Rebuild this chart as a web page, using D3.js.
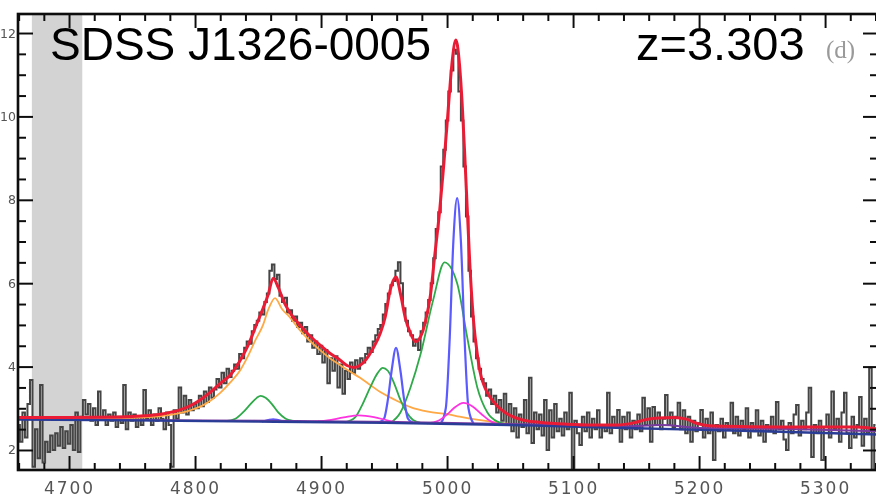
<!DOCTYPE html>
<html>
<head>
<meta charset="utf-8">
<script src="https://cdn.jsdelivr.net/npm/d3@7"></script>
<style>
  html, body { margin: 0; padding: 0; background: #fff; }
  svg { display: block; }
</style>
</head>
<body>
<svg id="chart" width="876" height="499"></svg>
<script>
// ---- Observed spectrum (rest-frame wavelength, 2 Å sampling) ----
const wavelengthStep = 2;

const flux4660 = [ // 4660 - 4710
  2.6, 2.2, 2.9, 2.3, 3.1, 3.68, 1.6, 2.5, 1.8, 3.56,
  1.7, 2.2, 1.95, 2.35, 2.0, 2.4, 2.1, 2.55, 2.05, 2.45,
  2.15, 2.6, 2.0, 2.9, 1.95, 2.8
];
const flux4712 = [ // 4712 - 4800
  3.2, 2.85, 3.1, 2.7, 3.0, 2.6, 3.4, 2.75, 2.95, 2.6,
  2.85, 2.7, 2.9, 2.55, 2.8, 2.65, 3.56, 2.5, 2.9, 2.7,
  2.85, 2.55, 2.8, 2.6, 3.44, 2.75, 2.95, 2.6, 2.85, 2.7,
  3.0, 2.75, 2.5, 2.9, 2.6, 1.6, 2.95, 2.75, 3.5, 2.9,
  3.3, 2.85, 3.2, 2.95, 3.1
];
const flux4802 = [ // 4802 - 4900 (H beta)
  3.0, 3.3, 3.05, 3.4, 3.15, 3.5, 3.25, 3.45, 3.7, 3.5,
  3.85, 3.6, 3.95, 3.75, 3.9, 4.05, 3.95, 4.3, 4.2, 4.45,
  4.6, 4.55, 4.85, 5.0, 5.1, 5.3, 5.25, 5.55, 5.75, 6.3,
  6.45, 6.1, 6.2, 5.7, 5.55, 5.65, 5.3, 5.35, 5.1, 5.2,
  4.95, 5.05, 4.8, 4.95, 4.6, 4.75, 4.45, 4.6, 4.3, 4.5
];
const flux4902 = [ // 4902 - 4950
  4.1, 4.4, 3.6, 4.2, 3.9, 4.25, 3.5, 4.05, 3.35, 3.9,
  3.7, 4.1, 3.85, 4.15, 3.95, 4.2, 4.1, 4.3, 4.45, 4.35,
  4.6, 4.75, 4.9, 5.0, 5.25
];
const flux4952 = [ // 4952 - 5060 ([O III] doublet)
  5.5, 5.75, 5.95, 6.05, 6.3, 6.5, 6.0, 5.4, 5.1, 4.85,
  4.75, 4.5, 4.65, 4.4, 4.85, 5.05, 5.3, 5.6, 6.0, 6.6,
  7.3, 7.7, 8.8, 9.2, 9.9, 10.6, 11.1, 11.6, 11.5, 10.6,
  9.9, 8.8, 7.6, 6.3, 5.2, 4.6, 4.2, 3.95, 3.7, 3.6,
  3.3, 3.45, 3.1, 3.3, 2.9, 3.2, 2.7, 3.35, 2.6, 3.1,
  2.45, 3.0, 2.3, 2.85, 2.55
];
const flux5062 = [ // 5062 - 5340
  3.2, 2.4, 3.73, 2.17, 2.9, 2.5, 2.85, 2.35, 3.2, 2.0,
  2.95, 2.3, 3.1, 2.45, 2.75, 2.35, 2.9, 2.5, 3.37, 1.52,
  2.7, 2.4, 2.12, 2.8, 2.45, 2.9, 2.3, 2.75, 2.5, 2.95,
  2.3, 2.6, 2.45, 3.37, 2.4, 2.8, 2.55, 2.96, 2.2, 2.8,
  2.5, 2.9, 2.3, 2.7, 2.5, 2.85, 2.45, 3.25, 2.6, 3.0,
  2.2, 3.03, 2.6, 2.9, 2.5, 2.75, 3.32, 2.6, 2.9, 2.55,
  2.8, 3.13, 2.5, 2.95, 2.4, 2.8, 2.2, 2.7, 2.45, 2.65,
  2.96, 2.3, 2.75, 2.4, 2.9, 1.76, 2.6, 2.45, 2.75, 2.3,
  2.65, 2.5, 3.13, 2.4, 2.8, 2.35, 2.7, 2.5, 3.0, 2.3,
  2.65, 2.45, 2.95, 2.35, 2.7, 2.2, 2.6, 2.45, 2.8, 2.4,
  3.15, 2.5, 2.7, 2.25, 2.0, 2.65, 2.4, 2.85, 3.08, 2.35,
  2.7, 2.5, 2.9, 3.49, 1.83, 2.6, 2.4, 2.7, 1.76, 2.55,
  2.85, 2.3, 3.4, 2.5, 2.75, 2.2, 2.9, 3.37, 2.4, 2.05,
  2.8, 2.3, 2.6, 3.27, 2.1, 2.75, 2.4, 3.97, 1.52, 2.6
];
const fluxSegments = [
  { start: 4660, values: flux4660 },
  { start: 4712, values: flux4712 },
  { start: 4802, values: flux4802 },
  { start: 4902, values: flux4902 },
  { start: 4952, values: flux4952 },
  { start: 5062, values: flux5062 }
];

// ---- Fit components: [wavelength, flux] ----
const totalFit = [
  [4659.5, 2.78], [4700, 2.78], [4740, 2.79], [4760, 2.82], [4775, 2.87], [4788, 2.96],
  [4796, 3.06], [4804, 3.2], [4812, 3.38], [4820, 3.6], [4828, 3.8], [4836, 4.16],
  [4842, 4.5], [4848, 4.95], [4854, 5.4], [4858, 5.72], [4862, 6.12], [4866, 5.9],
  [4871, 5.52], [4877, 5.22], [4883, 5.0], [4891, 4.74], [4899, 4.52], [4907, 4.32],
  [4915, 4.16], [4921, 4.02], [4926, 3.98], [4931, 4.03], [4936, 4.18], [4941, 4.42],
  [4947, 4.8], [4951, 5.2], [4955, 5.85], [4959.5, 6.15], [4963, 5.75], [4967, 5.15],
  [4971, 4.8], [4975, 4.6], [4979, 4.72], [4983, 5.1], [4987, 5.75], [4990, 6.6],
  [4994, 7.7], [4997, 8.7], [5000, 9.8], [5002, 10.6], [5004, 11.3], [5007, 11.83],
  [5010, 11.2], [5012, 10.3], [5014, 9.1], [5016, 7.8], [5018, 6.5], [5021, 5.1],
  [5024, 4.3], [5026, 3.9], [5030, 3.5], [5034, 3.27], [5040, 3.05], [5046, 2.9],
  [5052, 2.8], [5060, 2.72], [5075, 2.66], [5095, 2.62], [5115, 2.6], [5135, 2.6],
  [5148, 2.65], [5158, 2.73], [5168, 2.77], [5180, 2.78], [5190, 2.74], [5198, 2.64],
  [5208, 2.58], [5240, 2.56], [5280, 2.55], [5310, 2.55], [5325, 2.55], [5342, 2.5]
];
const powerLaw = [
  [4659.5, 2.73], [4750, 2.71], [4850, 2.68], [4950, 2.65], [5050, 2.6],
  [5150, 2.52], [5250, 2.45], [5342, 2.37]
];
const ironTemplate = [
  [4659.5, 2.75], [4760, 2.72], [4860, 2.7], [4960, 2.67], [5060, 2.62],
  [5140, 2.56], [5170, 2.6], [5200, 2.53], [5280, 2.5], [5342, 2.45]
];
const broadHbeta = [
  [4659.5, 2.74], [4720, 2.745], [4760, 2.78], [4780, 2.84], [4796, 2.95], [4808, 3.1],
  [4820, 3.37], [4828, 3.62], [4836, 3.92], [4842, 4.25], [4848, 4.64], [4854, 5.0],
  [4858, 5.36], [4863.5, 5.64], [4869, 5.38], [4875, 5.19], [4883, 4.88], [4891, 4.62],
  [4899, 4.4], [4907, 4.2], [4915, 4.04], [4923, 3.88], [4931, 3.73], [4939, 3.56],
  [4947, 3.39], [4959, 3.2], [4971, 3.03], [4985, 2.92], [5000, 2.86], [5010, 2.8],
  [5025, 2.72], [5042, 2.65], [5060, 2.6]
];
const greenHbeta = [
  [4824, 2.69], [4832, 2.75], [4838, 2.9], [4844, 3.1], [4849, 3.25], [4852, 3.3],
  [4856, 3.25], [4861, 3.1], [4866, 2.9], [4872, 2.75], [4878, 2.7], [4884, 2.68]
];
const greenOIII4959 = [
  [4919, 2.66], [4927, 2.78], [4933, 3.1], [4939, 3.5], [4945, 3.85], [4949, 3.97],
  [4953, 3.9], [4958, 3.6], [4963, 3.2], [4968, 2.9], [4973, 2.72], [4979, 2.65]
];
const greenOIII5007 = [
  [4955, 2.65], [4963, 2.9], [4971, 3.5], [4979, 4.3], [4989, 5.6], [4998, 6.5],
  [5008, 6.0], [5016, 4.7], [5024, 3.5], [5032, 2.9], [5040, 2.68], [5048, 2.62]
];
const narrowHbeta = [
  [4853, 2.68], [4858, 2.72], [4862, 2.74], [4866, 2.72], [4871, 2.68]
];
const narrowOIII4959 = [
  [4946, 2.66], [4950, 2.75], [4953, 3.2], [4956, 3.9], [4959.5, 4.45],
  [4963, 3.9], [4966, 3.2], [4969, 2.75], [4973, 2.65]
];
const narrowOIII5007 = [
  [4995, 2.63], [4999, 3.0], [5002, 4.6], [5005, 7.0], [5008, 8.04],
  [5011, 7.0], [5014, 4.6], [5017, 3.0], [5021, 2.63]
];
const heliumBumpA = [
  [4890, 2.67], [4905, 2.71], [4918, 2.78], [4930, 2.83], [4942, 2.79], [4954, 2.7], [4966, 2.645]
];
const heliumBumpB = [
  [4984, 2.64], [4993, 2.7], [5000, 2.85], [5006, 3.02], [5013, 3.13], [5020, 3.05],
  [5027, 2.87], [5034, 2.7], [5043, 2.6]
];

// ---- Axis ticks, masked region and labels ----
const xMajorTicks = [4700, 4800, 4900, 5000, 5100, 5200, 5300];
const xMinorTicks = [4660, 4680, 4720, 4740, 4760, 4780, 4820, 4840, 4860, 4880, 4920, 4940,
  4960, 4980, 5020, 5040, 5060, 5080, 5120, 5140, 5160, 5180, 5220, 5240, 5260, 5280, 5320, 5340];
const yMajorTicks = [2, 4, 6, 8, 10, 12];
const yMinorTicks = [2.5, 3, 3.5, 4.5, 5, 5.5, 6.5, 7, 7.5, 8.5, 9, 9.5, 10.5, 11, 11.5];
const maskedRange = [4670.5, 4710.5];
const objectName = "SDSS J1326-0005";
const redshiftLabel = "z=3.303";
const panelLabel = "(d)";

// ---- Layout ----
const svg = d3.select("#chart");
const plot = { left: 18, right: 878, top: 14, bottom: 470 };
const x = d3.scaleLinear().domain([4659.5, 5342]).range([plot.left, plot.right]);
const y = d3.scaleLinear().domain([1.52, 12.456]).range([plot.bottom, plot.top]);

const defs = svg.append("defs");
defs.append("clipPath").attr("id", "plotClip")
  .append("rect")
  .attr("x", plot.left).attr("y", plot.top)
  .attr("width", plot.right - plot.left).attr("height", plot.bottom - plot.top);
defs.append("filter").attr("id", "soft")
  .attr("x", "-5%").attr("y", "-5%").attr("width", "110%").attr("height", "110%")
  .append("feGaussianBlur").attr("stdDeviation", 0.7);

const chart = svg.append("g").attr("filter", "url(#soft)");

// masked wavelength band
chart.append("rect")
  .attr("x", x(maskedRange[0])).attr("y", plot.top)
  .attr("width", x(maskedRange[1]) - x(maskedRange[0]))
  .attr("height", plot.bottom - plot.top)
  .attr("fill", "#d3d3d3");

const inner = chart.append("g").attr("clip-path", "url(#plotClip)");

const spectrum = fluxSegments.flatMap(s =>
  s.values.map((v, i) => [s.start + i * wavelengthStep, v]));

const stepLine = d3.line().x(d => x(d[0])).y(d => y(d[1])).curve(d3.curveStep);
const smoothLine = d3.line().x(d => x(d[0])).y(d => y(d[1])).curve(d3.curveMonotoneX);

inner.append("path").datum(spectrum)
  .attr("d", stepLine).attr("fill", "none")
  .attr("stroke", "#444").attr("stroke-width", 2);

const components = [
  { data: broadHbeta, color: "#ffa844", width: 1.8 },
  { data: greenHbeta, color: "#2eaa4a", width: 1.8 },
  { data: greenOIII4959, color: "#2eaa4a", width: 1.8 },
  { data: greenOIII5007, color: "#2eaa4a", width: 1.8 },
  { data: narrowHbeta, color: "#5a5aff", width: 2 },
  { data: narrowOIII4959, color: "#5a5aff", width: 2.2 },
  { data: narrowOIII5007, color: "#5a5aff", width: 2.2 },
  { data: heliumBumpA, color: "#ff33e0", width: 1.8 },
  { data: heliumBumpB, color: "#ff33e0", width: 1.8 },
  { data: ironTemplate, color: "#7a3aa0", width: 2 },
  { data: powerLaw, color: "#2c3c96", width: 2.4 }
];
components.forEach(c => {
  inner.append("path").datum(c.data)
    .attr("d", smoothLine).attr("fill", "none")
    .attr("stroke", c.color).attr("stroke-width", c.width);
});

inner.append("path").datum(totalFit)
  .attr("d", smoothLine).attr("fill", "none")
  .attr("stroke", "#ea1f35").attr("stroke-width", 3);

// ---- Axes (ticks pointing into the frame) ----
function styleAxis(size, spacing) {
  return g => {
    g.select(".domain").remove();
    g.selectAll(".tick line").attr("stroke", "#111").attr("stroke-width", 2);
    g.selectAll(".tick text")
      .attr("fill", "#555")
      .style("font-family", "'DejaVu Sans', sans-serif")
      .style("font-size", size + "px")
      .style("letter-spacing", spacing + "px");
  };
}

chart.append("g").attr("transform", `translate(0,${plot.bottom})`)
  .call(d3.axisBottom(x).tickValues(xMajorTicks).tickSize(-14).tickPadding(12)
    .tickFormat(d3.format("d")))
  .call(styleAxis(17, 2));
chart.append("g").attr("transform", `translate(0,${plot.bottom})`)
  .call(d3.axisBottom(x).tickValues(xMinorTicks).tickSize(-7).tickFormat(""))
  .call(styleAxis(17, 0));
chart.append("g").attr("transform", `translate(0,${plot.top})`)
  .call(d3.axisTop(x).tickValues(xMajorTicks).tickSize(-14).tickFormat(""))
  .call(styleAxis(17, 0));
chart.append("g").attr("transform", `translate(0,${plot.top})`)
  .call(d3.axisTop(x).tickValues(xMinorTicks).tickSize(-7).tickFormat(""))
  .call(styleAxis(17, 0));

chart.append("g").attr("transform", `translate(${plot.left},0)`)
  .call(d3.axisLeft(y).tickValues(yMajorTicks).tickSize(-15).tickPadding(2)
    .tickFormat(d3.format("d")))
  .call(styleAxis(12.5, 0));
chart.append("g").attr("transform", `translate(${plot.left},0)`)
  .call(d3.axisLeft(y).tickValues(yMinorTicks).tickSize(-8).tickFormat(""))
  .call(styleAxis(12.5, 0));
chart.append("g").attr("transform", `translate(${plot.right},0)`)
  .call(d3.axisRight(y).tickValues(yMajorTicks).tickSize(-15).tickFormat(""))
  .call(styleAxis(12.5, 0));
chart.append("g").attr("transform", `translate(${plot.right},0)`)
  .call(d3.axisRight(y).tickValues(yMinorTicks).tickSize(-8).tickFormat(""))
  .call(styleAxis(12.5, 0));

// frame
chart.append("rect")
  .attr("x", plot.left).attr("y", plot.top)
  .attr("width", plot.right - plot.left).attr("height", plot.bottom - plot.top)
  .attr("fill", "none").attr("stroke", "#111").attr("stroke-width", 2.6);

// panel tag
chart.append("text")
  .attr("x", 826).attr("y", 58)
  .attr("fill", "#9a9a9a")
  .style("font-family", "'Liberation Serif', serif")
  .style("font-size", "25px")
  .text(panelLabel);

// ---- Titles ----
svg.append("text")
  .attr("x", 50).attr("y", 60)
  .style("font-family", "'Liberation Sans', Arial, sans-serif")
  .style("font-size", "46px")
  .attr("fill", "#000")
  .text(objectName);
svg.append("text")
  .attr("x", 636).attr("y", 60)
  .style("font-family", "'Liberation Sans', Arial, sans-serif")
  .style("font-size", "47px")
  .attr("fill", "#000")
  .text(redshiftLabel);
</script>
</body>
</html>
